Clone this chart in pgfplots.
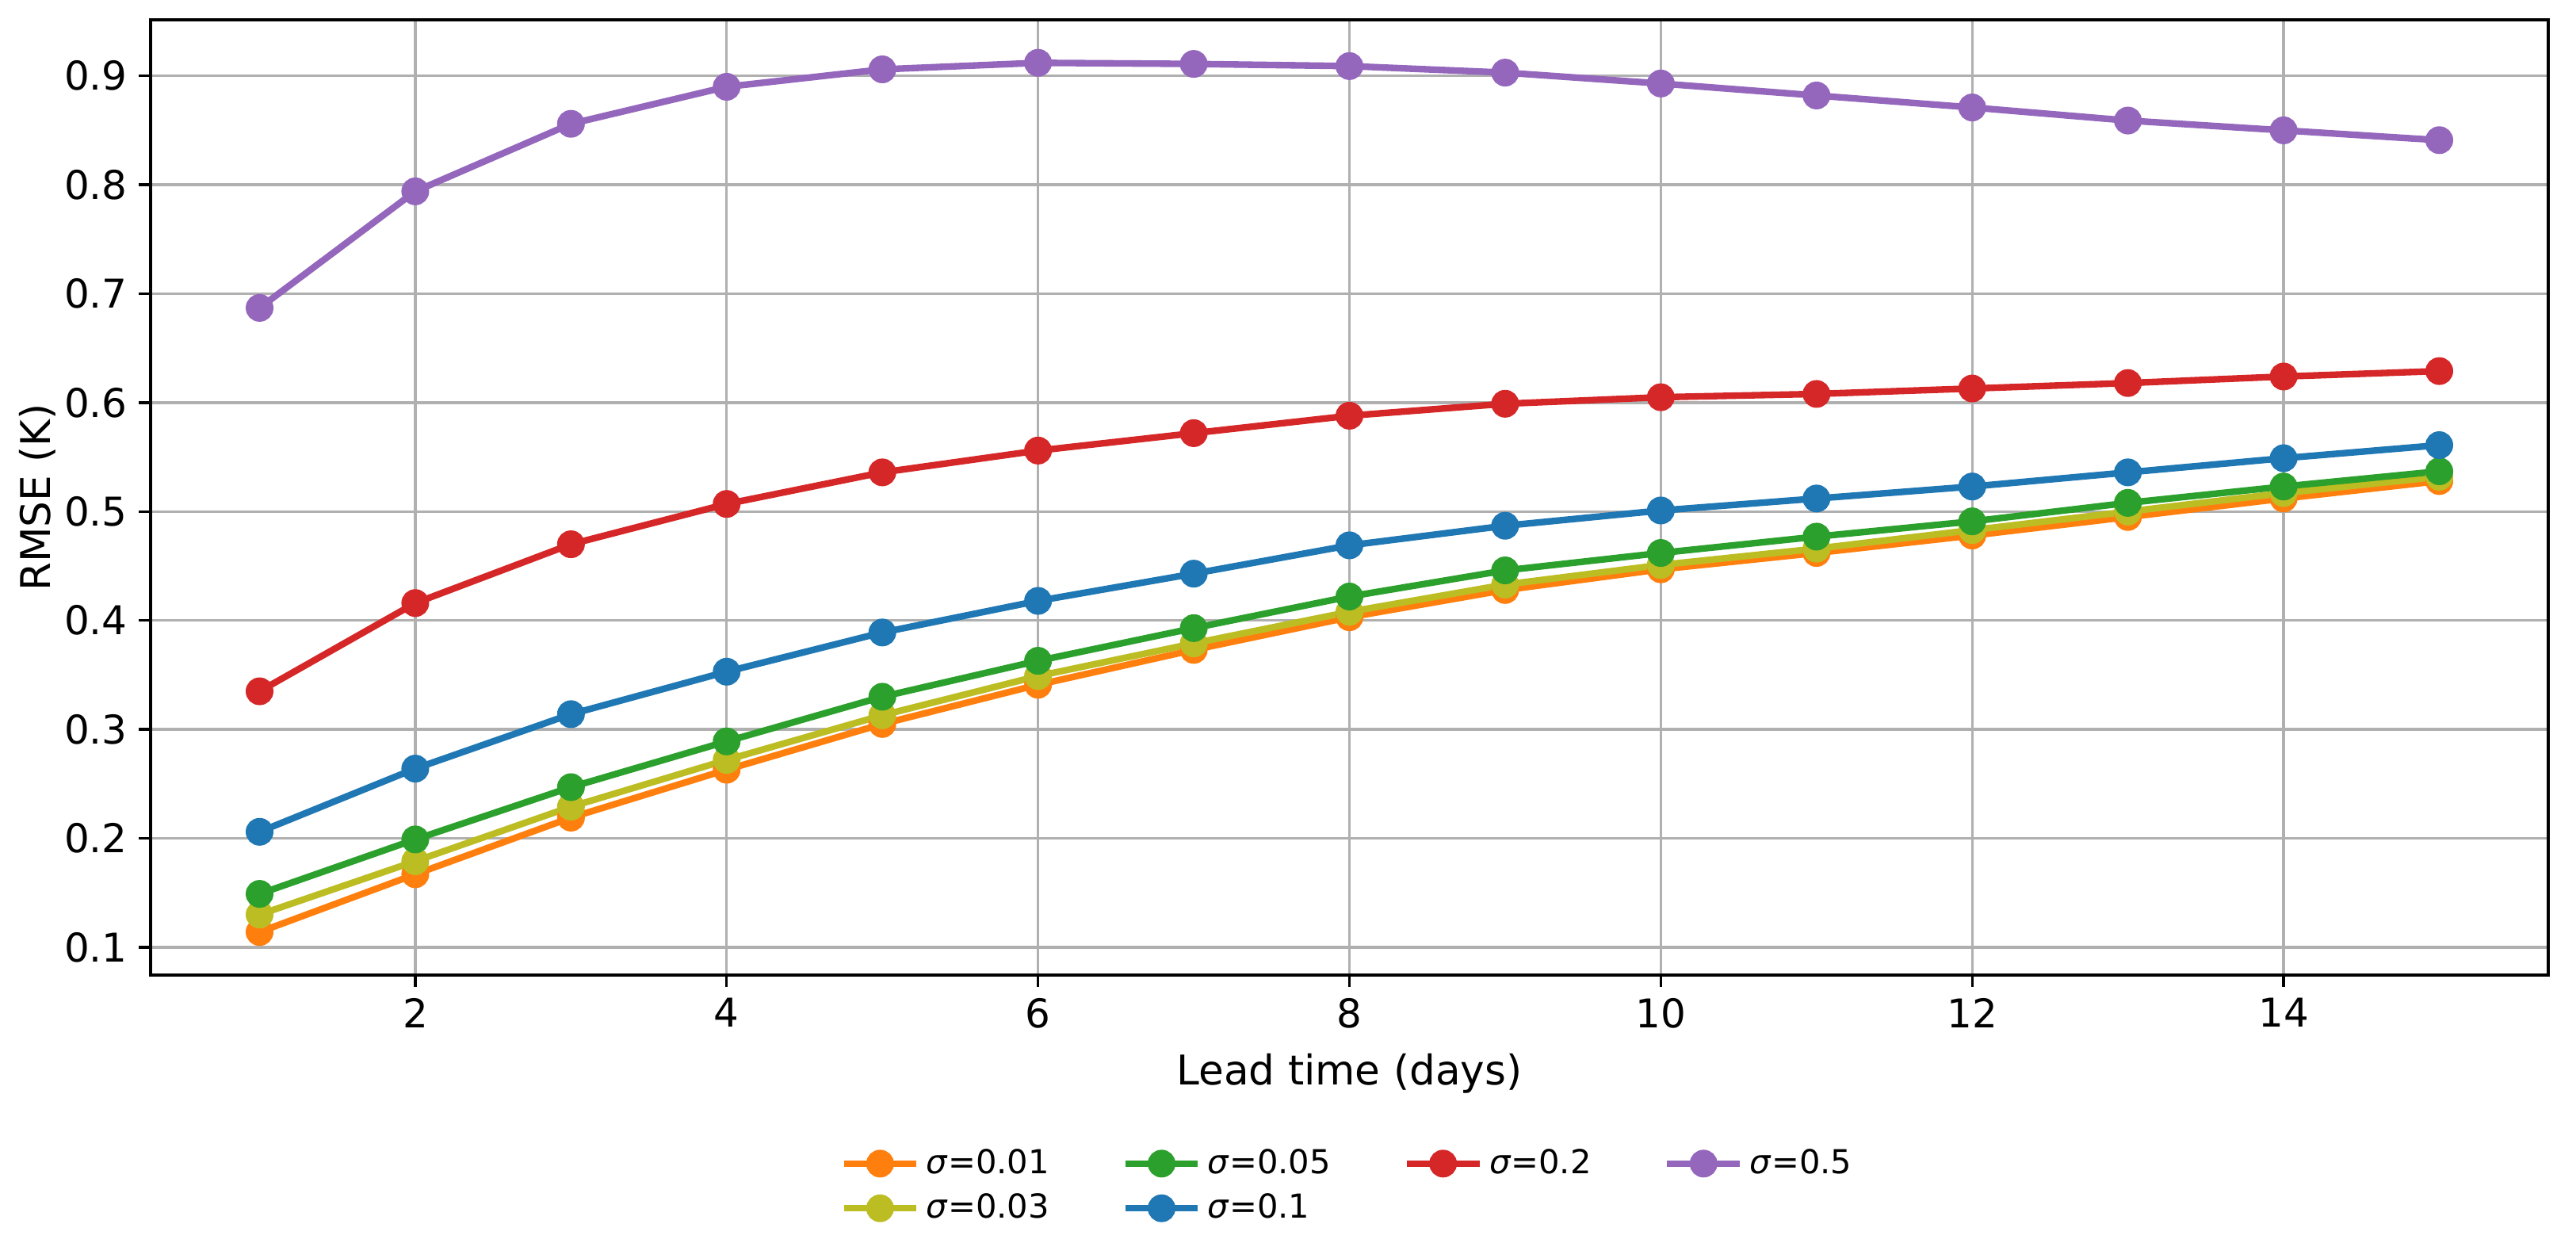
\documentclass[border=0pt]{standalone}
\usepackage{fontspec}
\setmainfont{DejaVu Sans}
\usepackage{pgfplots}
\usepackage{pgfplotstable}
\pgfplotsset{compat=1.18}
\definecolor{cA}{HTML}{FF7F0E}
\definecolor{cB}{HTML}{BCBD22}
\definecolor{cC}{HTML}{2CA02C}
\definecolor{cD}{HTML}{1F77B4}
\definecolor{cE}{HTML}{D62728}
\definecolor{cF}{HTML}{9467BD}
\definecolor{gridgray}{HTML}{B0B0B0}
\pgfplotstableread{
x  s001  s003  s005  s01   s02   s05
1  0.114 0.130 0.149 0.206 0.335 0.687
2  0.167 0.179 0.199 0.264 0.416 0.794
3  0.219 0.229 0.247 0.314 0.470 0.856
4  0.263 0.272 0.289 0.353 0.507 0.890
5  0.305 0.313 0.330 0.389 0.536 0.906
6  0.341 0.349 0.363 0.418 0.556 0.912
7  0.373 0.379 0.393 0.443 0.572 0.911
8  0.403 0.408 0.422 0.469 0.588 0.909
9  0.428 0.433 0.446 0.487 0.599 0.903
10 0.447 0.451 0.462 0.501 0.605 0.893
11 0.462 0.466 0.477 0.512 0.608 0.882
12 0.478 0.483 0.491 0.523 0.613 0.871
13 0.495 0.500 0.508 0.536 0.618 0.859
14 0.512 0.517 0.523 0.549 0.624 0.850
15 0.528 0.532 0.537 0.561 0.629 0.841
}\data
\begin{document}
\begin{tikzpicture}
\begin{axis}[
  scale only axis, width=726pt, height=289.2pt,
  xmin=0.3, xmax=15.7, ymin=0.0745, ymax=0.9515,
  xtick={2,4,6,8,10,12,14},
  ytick={0.1,0.2,0.3,0.4,0.5,0.6,0.7,0.8,0.9},
  yticklabel style={/pgf/number format/.cd, fixed, fixed zerofill, precision=1},
  /pgf/number format/assume math mode=true,
  grid=major, grid style={color=gridgray, line width=0.8pt},
  axis line style={line width=0.8pt},
  tick style={line width=0.8pt, black},
  major tick length=3.5pt,
  tick align=outside, tick pos=left,
  ticklabel style={font=\fontsize{12}{14}\selectfont},
  label style={font=\fontsize{12.4}{14}\selectfont},
  xlabel={Lead time (days)},
  ylabel={RMSE (K)},
  xlabel style={at={(axis description cs:0.5,0)}, anchor=base, yshift=-33.2pt},
  ylabel style={at={(axis description cs:0,0.5)}, anchor=center, yshift=34.2pt},
  every axis plot/.append style={line width=2pt, mark=*, mark size=3.2pt, mark options={solid}},
  legend image code/.code={\draw[mark repeat=2,mark phase=2] plot coordinates {(0pt,0pt) (11pt,0pt) (22pt,0pt)};},
  legend style={draw=none, fill=none, font=\fontsize{10}{12}\selectfont,
    at={(0.5,0)}, anchor=center, yshift=-63.85pt,
    /tikz/every even column/.append style={column sep=20pt},
    row sep=0.6pt},
  legend columns=4,
  legend cell align=left,
]
\addplot[cA, forget plot] table[x=x, y=s001] {\data};
\addplot[cB, forget plot] table[x=x, y=s003] {\data};
\addplot[cC, forget plot] table[x=x, y=s005] {\data};
\addplot[cD, forget plot] table[x=x, y=s01] {\data};
\addplot[cE, forget plot] table[x=x, y=s02] {\data};
\addplot[cF, forget plot] table[x=x, y=s05] {\data};
\addlegendimage{cA, line width=2pt, mark=*, mark size=3.2pt}
\addlegendentry{\textit{σ}=0.01}
\addlegendimage{cC, line width=2pt, mark=*, mark size=3.2pt}
\addlegendentry{\textit{σ}=0.05}
\addlegendimage{cE, line width=2pt, mark=*, mark size=3.2pt}
\addlegendentry{\textit{σ}=0.2}
\addlegendimage{cF, line width=2pt, mark=*, mark size=3.2pt}
\addlegendentry{\textit{σ}=0.5}
\addlegendimage{cB, line width=2pt, mark=*, mark size=3.2pt}
\addlegendentry{\textit{σ}=0.03}
\addlegendimage{cD, line width=2pt, mark=*, mark size=3.2pt}
\addlegendentry{\textit{σ}=0.1}
\end{axis}
\pgfresetboundingbox
\path (-45.6pt,-80.9pt) rectangle (734.4pt,295.2pt);
\end{tikzpicture}
\end{document}
